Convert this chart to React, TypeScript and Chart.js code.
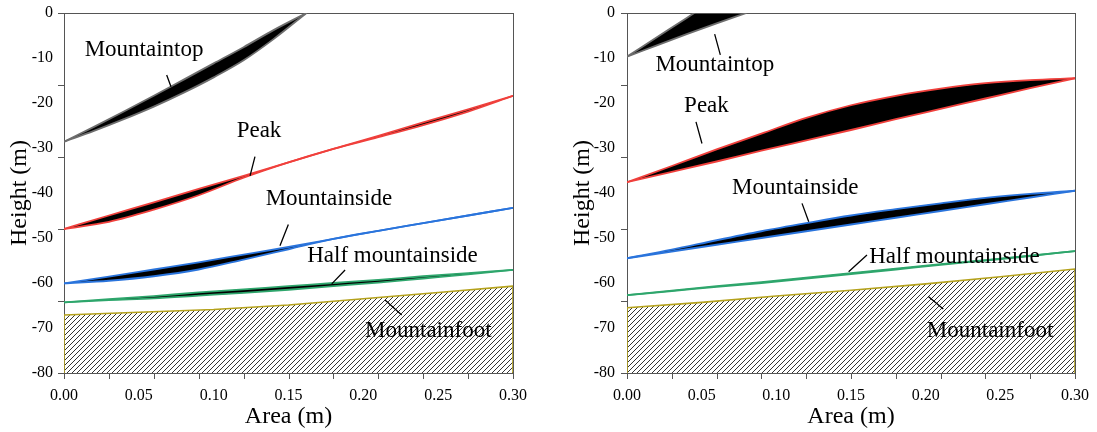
import React, { useEffect, useRef } from 'react';
import { Chart, registerables } from 'chart.js';
Chart.register(...registerables);

const FONT = '"Liberation Serif", "Times New Roman", Times, serif';

// ---------- shared axis data ----------
const X_LABEL_STEP = 0.05;
const Y_LABEL_STEP = 10;
const X_TICK_MARKS = [0, 0.03, 0.06, 0.09, 0.12, 0.15, 0.18, 0.21, 0.24, 0.27, 0.3];
const Y_TICK_MARKS = [0, -16, -32, -48, -64, -80];
const X_GRID = [0, 0.03, 0.06, 0.09, 0.12, 0.15, 0.18, 0.21, 0.24, 0.27, 0.3];
const FOOT_X = [0, 0, 0.05, 0.1, 0.15, 0.2, 0.25, 0.3, 0.3];
const LABEL_TEXTS = ['Mountaintop', 'Peak', 'Mountainside', 'Half mountainside', 'Mountainfoot'];

// ---------- left panel data ----------
const L_TOP_X = [0, 0.02, 0.04, 0.06, 0.08, 0.1, 0.12, 0.14, 0.162];
const L_TOP_UP = [-28.6, -25.3, -21.9, -18.4, -14.8, -11.2, -7.6, -3.8, 0];
const L_TOP_LO = [-28.6, -26.2, -23.6, -20.8, -17.7, -14.3, -10.5, -5.8, 0];
const L_PEAK_UP = [-48.0, -45.0, -42.1, -39.1, -36.2, -33.2, -30.2, -27.3, -24.3, -21.4, -18.4];
const L_PEAK_LO = [-48.0, -46.4, -43.7, -40.5, -36.6, -33.2, -30.2, -27.6, -24.9, -21.9, -18.4];
const L_SIDE_UP = [-60.1, -58.6, -57.0, -55.4, -53.7, -52.0, -50.2, -48.4, -46.7, -45.0, -43.3];
const L_SIDE_LO = [-60.1, -59.5, -58.5, -57.0, -54.8, -52.5, -50.2, -48.4, -46.7, -45.0, -43.3];
const L_HALF_UP = [-64.3, -63.6, -62.9, -62.1, -61.4, -60.7, -60.0, -59.3, -58.5, -57.8, -57.1];
const L_HALF_LO = [-64.3, -63.8, -63.4, -62.8, -62.2, -61.5, -60.7, -59.9, -59.0, -58.1, -57.1];
const L_FOOT_Y = [-80, -67.1, -66.5, -65.9, -64.9, -63.5, -62.1, -60.7, -80];
const L_LABEL_X = [0.0535, 0.1303, 0.177, 0.2195, 0.2434];
const L_LABEL_Y = [-8.2, -26.2, -41.4, -54.0, -70.7];
const L_LEAD_X1 = [0.0686, 0.1276, 0.1499, 0.1878, 0.2145];
const L_LEAD_Y1 = [-13.8, -31.9, -47.0, -57.1, -63.8];
const L_LEAD_X2 = [0.0715, 0.1243, 0.1443, 0.1789, 0.2256];
const L_LEAD_Y2 = [-16.4, -36.2, -51.7, -60.2, -67.1];

// ---------- right panel data ----------
const R_TOP_X = [0, 0.02, 0.04, 0.06, 0.08];
const R_TOP_UP = [-9.7, -5.4, -1.1, 3.3, 7.6];
const R_TOP_LO = [-9.7, -7.2, -4.7, -2.3, 0];
const R_PEAK_UP = [-37.6, -34.0, -30.3, -26.8, -23.3, -20.5, -18.4, -16.8, -15.6, -14.9, -14.5];
const R_PEAK_LO = [-37.6, -35.3, -33.0, -30.6, -28.3, -26.0, -23.6, -21.3, -19.0, -16.7, -14.5];
const R_SIDE_UP = [-54.5, -52.6, -50.5, -48.5, -46.7, -45.0, -43.6, -42.3, -41.1, -40.2, -39.5];
const R_SIDE_LO = [-54.5, -53.0, -51.5, -50.0, -48.5, -47.0, -45.5, -44.0, -42.5, -41.0, -39.5];
const R_HALF_UP = [-62.7, -61.7, -60.7, -59.8, -58.8, -57.8, -56.8, -55.8, -54.9, -53.9, -52.9];
const R_HALF_LO = [-62.7, -61.8, -60.85, -60.0, -59.0, -58.0, -57.0, -55.95, -55.0, -54.0, -52.9];
const R_FOOT_Y = [-80, -65.5, -64.3, -62.9, -61.6, -60.2, -58.6, -56.9, -80];
const R_LABEL_X = [0.0588, 0.0532, 0.1127, 0.2193, 0.2431];
const R_LABEL_Y = [-11.6, -20.6, -38.9, -54.3, -70.7];
const R_LEAD_X1 = [0.0587, 0.0462, 0.1172, 0.1607, 0.2018];
const R_LEAD_Y1 = [-4.7, -24.2, -42.3, -53.8, -63.0];
const R_LEAD_X2 = [0.0625, 0.0502, 0.1217, 0.1484, 0.2118];
const R_LEAD_Y2 = [-9.3, -29.0, -46.4, -57.5, -65.8];

const COLORS = { top: '#6e6e6e', peak: '#f0403c', side: '#2a74dc', half: '#2ea66c', foot: '#b5a21c' };

type Band = { xs: number[]; up: number[]; lo: number[]; color: string };
type Panel = {
  left: number;
  width: number;
  yAxisWidth: number;
  rightPad: number;
  yTitlePad: number;
  yTickPad: number;
  bands: Band[];
  footY: number[];
  labelX: number[];
  labelY: number[];
  leadX1: number[];
  leadY1: number[];
  leadX2: number[];
  leadY2: number[];
};

const PANELS: Panel[] = [
  {
    left: 0, width: 560, yAxisWidth: 64, rightPad: 47, yTitlePad: 5, yTickPad: 11,
    bands: [
      { xs: L_TOP_X, up: L_TOP_UP, lo: L_TOP_LO, color: COLORS.top },
      { xs: X_GRID, up: L_PEAK_UP, lo: L_PEAK_LO, color: COLORS.peak },
      { xs: X_GRID, up: L_SIDE_UP, lo: L_SIDE_LO, color: COLORS.side },
      { xs: X_GRID, up: L_HALF_UP, lo: L_HALF_LO, color: COLORS.half },
    ],
    footY: L_FOOT_Y,
    labelX: L_LABEL_X, labelY: L_LABEL_Y,
    leadX1: L_LEAD_X1, leadY1: L_LEAD_Y1, leadX2: L_LEAD_X2, leadY2: L_LEAD_Y2,
  },
  {
    left: 560, width: 537, yAxisWidth: 67, rightPad: 22, yTitlePad: 8, yTickPad: 12,
    bands: [
      { xs: R_TOP_X, up: R_TOP_UP, lo: R_TOP_LO, color: COLORS.top },
      { xs: X_GRID, up: R_PEAK_UP, lo: R_PEAK_LO, color: COLORS.peak },
      { xs: X_GRID, up: R_SIDE_UP, lo: R_SIDE_LO, color: COLORS.side },
      { xs: X_GRID, up: R_HALF_UP, lo: R_HALF_LO, color: COLORS.half },
    ],
    footY: R_FOOT_Y,
    labelX: R_LABEL_X, labelY: R_LABEL_Y,
    leadX1: R_LEAD_X1, leadY1: R_LEAD_Y1, leadX2: R_LEAD_X2, leadY2: R_LEAD_Y2,
  },
];

function makeHatch(ctx: CanvasRenderingContext2D): CanvasPattern | string {
  const s = 5;
  const c = document.createElement('canvas');
  c.width = s;
  c.height = s;
  const g = c.getContext('2d');
  if (!g) return '#888';
  g.strokeStyle = '#1c1c1c';
  g.lineWidth = 0.9;
  g.beginPath();
  g.moveTo(-1, s + 1);
  g.lineTo(s + 1, -1);
  g.moveTo(-1, 1);
  g.lineTo(1, -1);
  g.moveTo(s - 1, s + 1);
  g.lineTo(s + 1, s - 1);
  g.stroke();
  return ctx.createPattern(c, 'repeat') || '#888';
}

function ChartPanel({ p }: { p: Panel }) {
  const ref = useRef<HTMLCanvasElement | null>(null);
  useEffect(() => {
    const canvas = ref.current;
    if (!canvas) return;
    const ctx = canvas.getContext('2d');
    if (!ctx) return;
    const hatch = makeHatch(ctx);

    const datasets: any[] = [];
    datasets.push({
      data: FOOT_X.map((x, i) => ({ x, y: p.footY[i] })),
      borderColor: COLORS.foot,
      borderWidth: 1.6,
      backgroundColor: hatch,
      fill: 'start',
      pointRadius: 0,
      tension: 0,
    });
    p.bands.forEach((b) => {
      datasets.push({
        data: b.xs.map((x, i) => ({ x, y: b.up[i] })),
        borderColor: b.color,
        borderWidth: 1.8,
        pointRadius: 0,
        fill: false,
        cubicInterpolationMode: 'monotone',
      });
      datasets.push({
        data: b.xs.map((x, i) => ({ x, y: b.lo[i] })),
        borderColor: b.color,
        borderWidth: 1.8,
        pointRadius: 0,
        fill: '-1',
        backgroundColor: '#000',
        cubicInterpolationMode: 'monotone',
      });
    });

    const framePlugin = {
      id: 'frame',
      beforeDatasetsDraw(chart: any) {
        const { ctx: c, chartArea: a } = chart;
        c.save();
        c.strokeStyle = '#555';
        c.lineWidth = 1;
        c.strokeRect(Math.round(a.left) + 0.5, Math.round(a.top) + 0.5, Math.round(a.right - a.left), Math.round(a.bottom - a.top));
        c.restore();
      },
      afterDraw(chart: any) {
        const { ctx: c, chartArea: a, scales } = chart;
        c.save();
        c.strokeStyle = '#555';
        c.lineWidth = 1;
        c.beginPath();
        Y_TICK_MARKS.forEach((v) => {
          const y = Math.round(scales.y.getPixelForValue(v)) + 0.5;
          c.moveTo(a.left - 6, y);
          c.lineTo(a.left, y);
        });
        X_TICK_MARKS.forEach((v) => {
          const x = Math.round(scales.x.getPixelForValue(v)) + 0.5;
          c.moveTo(x, a.bottom);
          c.lineTo(x, a.bottom + 6);
        });
        c.stroke();
        c.restore();
      },
    };

    const labelPlugin = {
      id: 'labels',
      afterDatasetsDraw(chart: any) {
        const { ctx: c, scales } = chart;
        const xs = scales.x;
        const ys = scales.y;
        c.save();
        c.strokeStyle = '#000';
        c.lineWidth = 1.3;
        c.beginPath();
        p.leadX1.forEach((_, i) => {
          c.moveTo(xs.getPixelForValue(p.leadX1[i]), ys.getPixelForValue(p.leadY1[i]));
          c.lineTo(xs.getPixelForValue(p.leadX2[i]), ys.getPixelForValue(p.leadY2[i]));
        });
        c.stroke();
        c.fillStyle = '#000';
        c.font = `23px ${FONT}`;
        c.textAlign = 'center';
        c.textBaseline = 'middle';
        LABEL_TEXTS.forEach((t, i) => {
          c.fillText(t, xs.getPixelForValue(p.labelX[i]), ys.getPixelForValue(p.labelY[i]));
        });
        c.restore();
      },
    };

    const chart = new Chart(ctx, {
      type: 'line',
      data: { datasets },
      options: {
        responsive: false,
        maintainAspectRatio: false,
        animation: false,
        events: [],
        layout: { padding: { left: 0, top: 13, right: p.rightPad, bottom: 0 } },
        plugins: {
          legend: { display: false },
          tooltip: { enabled: false },
          filler: { drawTime: 'beforeDatasetsDraw' },
        },
        scales: {
          x: {
            type: 'linear',
            min: 0,
            max: 0.3,
            grid: { display: false, drawTicks: false },
            border: { display: false },
            ticks: {
              stepSize: X_LABEL_STEP,
              color: '#000',
              padding: 13,
              maxRotation: 0,
              autoSkip: false,
              font: { family: FONT, size: 16 },
              callback: (v: any) => Number(v).toFixed(2),
            },
            title: {
              display: true,
              text: 'Area (m)',
              color: '#000',
              font: { family: FONT, size: 24 },
              padding: { top: 0, bottom: 1 },
            },
            afterFit: (s: any) => {
              s.height = 59;
              s.paddingLeft = 0;
              s.paddingRight = 0;
            },
          },
          y: {
            type: 'linear',
            min: -80,
            max: 0,
            grid: { display: false, drawTicks: false },
            border: { display: false },
            ticks: {
              stepSize: Y_LABEL_STEP,
              color: '#000',
              padding: p.yTickPad,
              autoSkip: false,
              font: { family: FONT, size: 16 },
              callback: (v: any) => String(Math.round(Number(v))),
            },
            title: {
              display: true,
              text: 'Height (m)',
              color: '#000',
              font: { family: FONT, size: 24 },
              padding: { top: p.yTitlePad, bottom: 0 },
            },
            afterFit: (s: any) => {
              s.width = p.yAxisWidth;
              s.paddingTop = 0;
              s.paddingBottom = 0;
            },
          },
        },
      } as any,
      plugins: [framePlugin, labelPlugin],
    });
    return () => chart.destroy();
  }, [p]);

  return (
    <canvas
      ref={ref}
      width={p.width}
      height={432}
      style={{ position: 'absolute', left: p.left, top: 0, width: p.width, height: 432, display: 'block' }}
    />
  );
}

export default function App() {
  return (
    <div style={{ position: 'absolute', left: 0, top: 0, width: 1097, height: 432, background: '#fff', overflow: 'hidden' }}>
      {PANELS.map((p, i) => (
        <ChartPanel key={i} p={p} />
      ))}
    </div>
  );
}
